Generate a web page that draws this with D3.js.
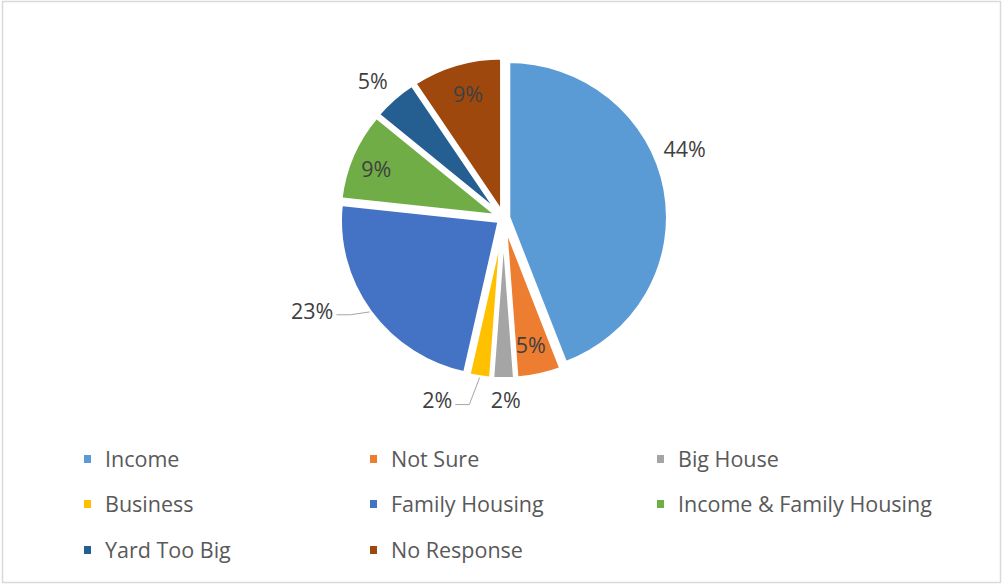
<!DOCTYPE html>
<html>
<head>
<meta charset="utf-8">
<script src="https://cdn.jsdelivr.net/npm/d3@7"></script>
<style>
  html, body { margin: 0; padding: 0; background: #fff; }
  svg { display: block; }
  text { font-family: "Open Sans", "Noto Sans", sans-serif; }
</style>
</head>
<body>
<svg id="chart" width="1003" height="585"></svg>
<script>
// Survey responses (43 respondents)
const categories = ["Income", "Not Sure", "Big House", "Business", "Family Housing",
                    "Income & Family Housing", "Yard Too Big", "No Response"];
const counts = [19, 2, 1, 1, 10, 4, 2, 4];
const colors = ["#5B9BD5", "#ED7D31", "#A5A5A5", "#FFC000", "#4472C4",
                "#70AD47", "#255E91", "#9E480E"];

// Label placement: radius factor, angular nudge (degrees) and vertical lift (px) per slice
const labelRadius = [1.21, 0.84, 1.16, 1.23, 1.33, 0.85, 1.19, 0.81];
const labelNudge = [-10.4, 0.9, -0.7, 11.3, 9.5, -2.2, -1.5, 0.8];
const labelLift = [2.5, 2.5, 0, 0, -1, 2.5, 2.5, 2.5];
const labelLeader = [false, false, false, true, true, false, false, false];

const svg = d3.select("#chart");
const W = 1003, H = 585;

// chart frame
svg.append("rect")
  .attr("x", 2.5).attr("y", 1.5)
  .attr("width", W - 5).attr("height", H - 4)
  .attr("fill", "#fff").attr("stroke", "#d9d9d9").attr("stroke-width", 1.5);

const cx = 503.6, cy = 218.2;
const rx = 160.2, ry = 156.6;
const sy = ry / rx;
const explode = 4.5;

const total = d3.sum(counts);
const data = categories.map((c, i) => ({ name: c, value: counts[i], color: colors[i], i }));

const pie = d3.pie().value(d => d.value).sort(null);
const arcs = pie(data);
const arc = d3.arc().innerRadius(0).outerRadius(rx);

const pct = d3.format(".0%");

const g = svg.append("g").attr("transform", `translate(${cx},${cy}) scale(1,${sy})`);

g.selectAll("path.slice")
  .data(arcs)
  .join("path")
  .attr("class", "slice")
  .attr("d", arc)
  .attr("fill", d => d.data.color)
  .attr("stroke", "#fff")
  .attr("stroke-width", 4.5)
  .attr("stroke-linejoin", "miter")
  .attr("transform", d => {
    const m = (d.startAngle + d.endAngle) / 2;
    return `translate(${explode * Math.sin(m)},${-explode * Math.cos(m) / sy})`;
  });

// polar -> screen (with vertical squash)
function pt(angle, rad) {
  return [cx + rad * Math.sin(angle), cy - rad * sy * Math.cos(angle)];
}

const labels = svg.append("g");
arcs.forEach((d, k) => {
  const m = (d.startAngle + d.endAngle) / 2;
  const a = m + labelNudge[k] * Math.PI / 180;
  const [lx, ly] = pt(a, rx * labelRadius[k]);
  const t = labels.append("text")
    .attr("x", lx).attr("y", ly - labelLift[k])
    .attr("text-anchor", "middle")
    .attr("dominant-baseline", "central")
    .attr("font-size", 21.5)
    .attr("fill", "#404040")
    .text(pct(d.data.value / total));
  if (labelLeader[k]) {
    const w = t.node().getComputedTextLength();
    const ex = explode * Math.sin(m), ey = -explode * Math.cos(m);
    const [sx0, sy0] = pt(m, rx);
    const start = [sx0 + ex, sy0 + ey];
    const end = [lx + w / 2 + 3, ly + 5];
    const elbow = [end[0] + 14, end[1]];
    labels.append("path")
      .attr("d", d3.line()([start, elbow, end]))
      .attr("fill", "none")
      .attr("stroke", "#a6a6a6")
      .attr("stroke-width", 1);
  }
});

// legend: three columns, three rows
const legCols = [84, 370, 657];
const legRows = [459, 504, 550];
const legend = svg.append("g");
data.forEach((d, i) => {
  const x = legCols[i % 3], y = legRows[Math.floor(i / 3)];
  legend.append("rect")
    .attr("x", x).attr("y", y - 4)
    .attr("width", 7).attr("height", 8)
    .attr("fill", d.color);
  legend.append("text")
    .attr("x", x + 21).attr("y", y - 1)
    .attr("dominant-baseline", "central")
    .attr("font-size", 21.5)
    .attr("fill", "#595959")
    .text(d.name);
});
</script>
</body>
</html>
